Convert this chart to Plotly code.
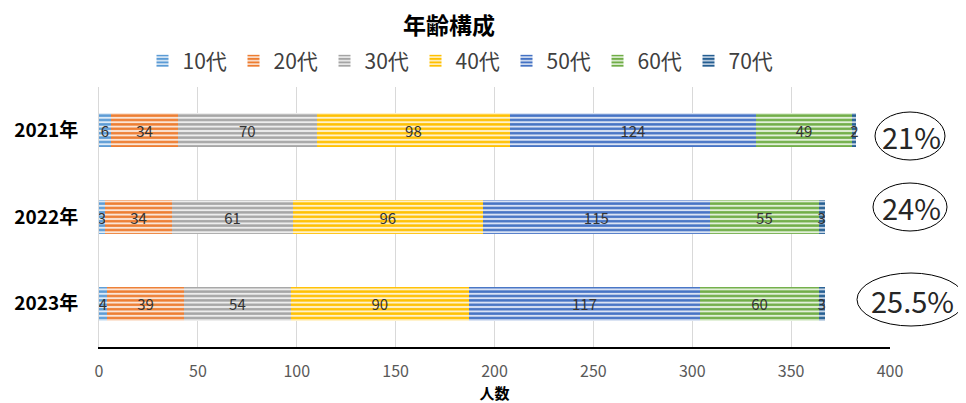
import plotly.graph_objects as go

years = ["2021年", "2022年", "2023年"]
groups = ["10代", "20代", "30代", "40代", "50代", "60代", "70代"]
values = {
    "10代": [6, 3, 4],
    "20代": [34, 34, 39],
    "30代": [70, 61, 54],
    "40代": [98, 96, 90],
    "50代": [124, 115, 117],
    "60代": [49, 55, 60],
    "70代": [2, 3, 3],
}
ratios = ["21%", "24%", "25.5%"]

colors = ["#5B9BD5", "#ED7D31", "#A5A5A5", "#FFC000", "#4472C4", "#70AD47", "#255E91"]
tints = ["#DEEBF7", "#FBE5D6", "#EDEDED", "#FFF2CC", "#DAE3F3", "#E2F0D9", "#C5D5E6"]

FONT = "Noto Sans CJK JP"
fig = go.Figure()
for g, c, t in zip(groups, colors, tints):
    fig.add_trace(go.Bar(
        y=years, x=values[g], name=g, orientation="h",
        marker=dict(color=c, line=dict(width=0),
                    pattern=dict(shape="-", fgcolor=c, bgcolor=t, size=4.4, solidity=0.55,
                                 fillmode="replace", fgopacity=1)),
        text=[str(v) for v in values[g]], textposition="inside", insidetextanchor="middle",
        textangle=0, constraintext="none",
        textfont=dict(family=FONT, size=15, color="#333333"),
        width=0.39,
    ))

# page body adds an 8px offset; figure is sized to fit the window
W, H, OFF = 958, 395, 8
PL, PR, PT, PB = 99, 890, 87, 347  # plot area in window pixels

shapes = []
annotations = []
ell = [(875, 945, 112, 160), (873, 947, 183, 231), (857, 966, 273, 326)]
def px(xp):
    return (xp - PL) / (PR - PL)
def py(yp):
    return (PB - yp) / (PB - PT)
for (x0, x1, y0, y1), r in zip(ell, ratios):
    shapes.append(dict(type="circle", xref="paper", yref="paper",
                       x0=px(x0), x1=px(min(x1, 965)), y0=py(y1), y1=py(y0),
                       line=dict(color="#000000", width=1)))
    annotations.append(dict(xref="paper", yref="paper", x=px((x0 + x1) / 2 + 1), y=py((y0 + y1) / 2),
                            xanchor="center", yanchor="middle",
                            text=r, showarrow=False, font=dict(family=FONT, size=29, color="#262626")))

# chart title as annotation
annotations.append(dict(xref="paper", yref="paper", x=px(449), y=py(24),
                        xanchor="center", yanchor="middle", showarrow=False,
                        text="<b>年齢構成</b>", font=dict(family=FONT, size=23, color="#000000")))

fig.update_layout(
    width=W, height=H,
    margin=dict(l=PL - OFF, r=W - (PR - OFF), t=PT - OFF, b=H - (PB - OFF), autoexpand=False),
    paper_bgcolor="white", plot_bgcolor="white",
    barmode="stack",
    legend=dict(orientation="h", x=px(461), xanchor="center", y=py(61), yanchor="middle",
                font=dict(family=FONT, size=21, color="#404040"), traceorder="normal",
                itemwidth=30, entrywidth=46, entrywidthmode="pixels", bgcolor="rgba(0,0,0,0)"),
    font=dict(family=FONT),
    uniformtext=dict(minsize=15, mode="show"),
    shapes=shapes, annotations=annotations,
    xaxis=dict(range=[0, 400], dtick=50, showgrid=True, gridcolor="#D9D9D9", gridwidth=1,
               showline=True, linecolor="#000000", linewidth=1.5, zeroline=False,
               ticks="", ticklabelstandoff=9, tickfont=dict(family=FONT, size=16, color="#595959"),
               title=dict(text="<b>人数</b>", font=dict(family=FONT, size=15, color="#000000"), standoff=4)),
    yaxis=dict(autorange="reversed", showgrid=False, showline=True, linecolor="#D9D9D9",
               ticks="", ticklabelstandoff=16,
               tickfont=dict(family=FONT, size=19, color="#000000"),
               tickvals=years, ticktext=["<b>" + y + "</b>" for y in years]),
)
fig.write_html("out.html")
